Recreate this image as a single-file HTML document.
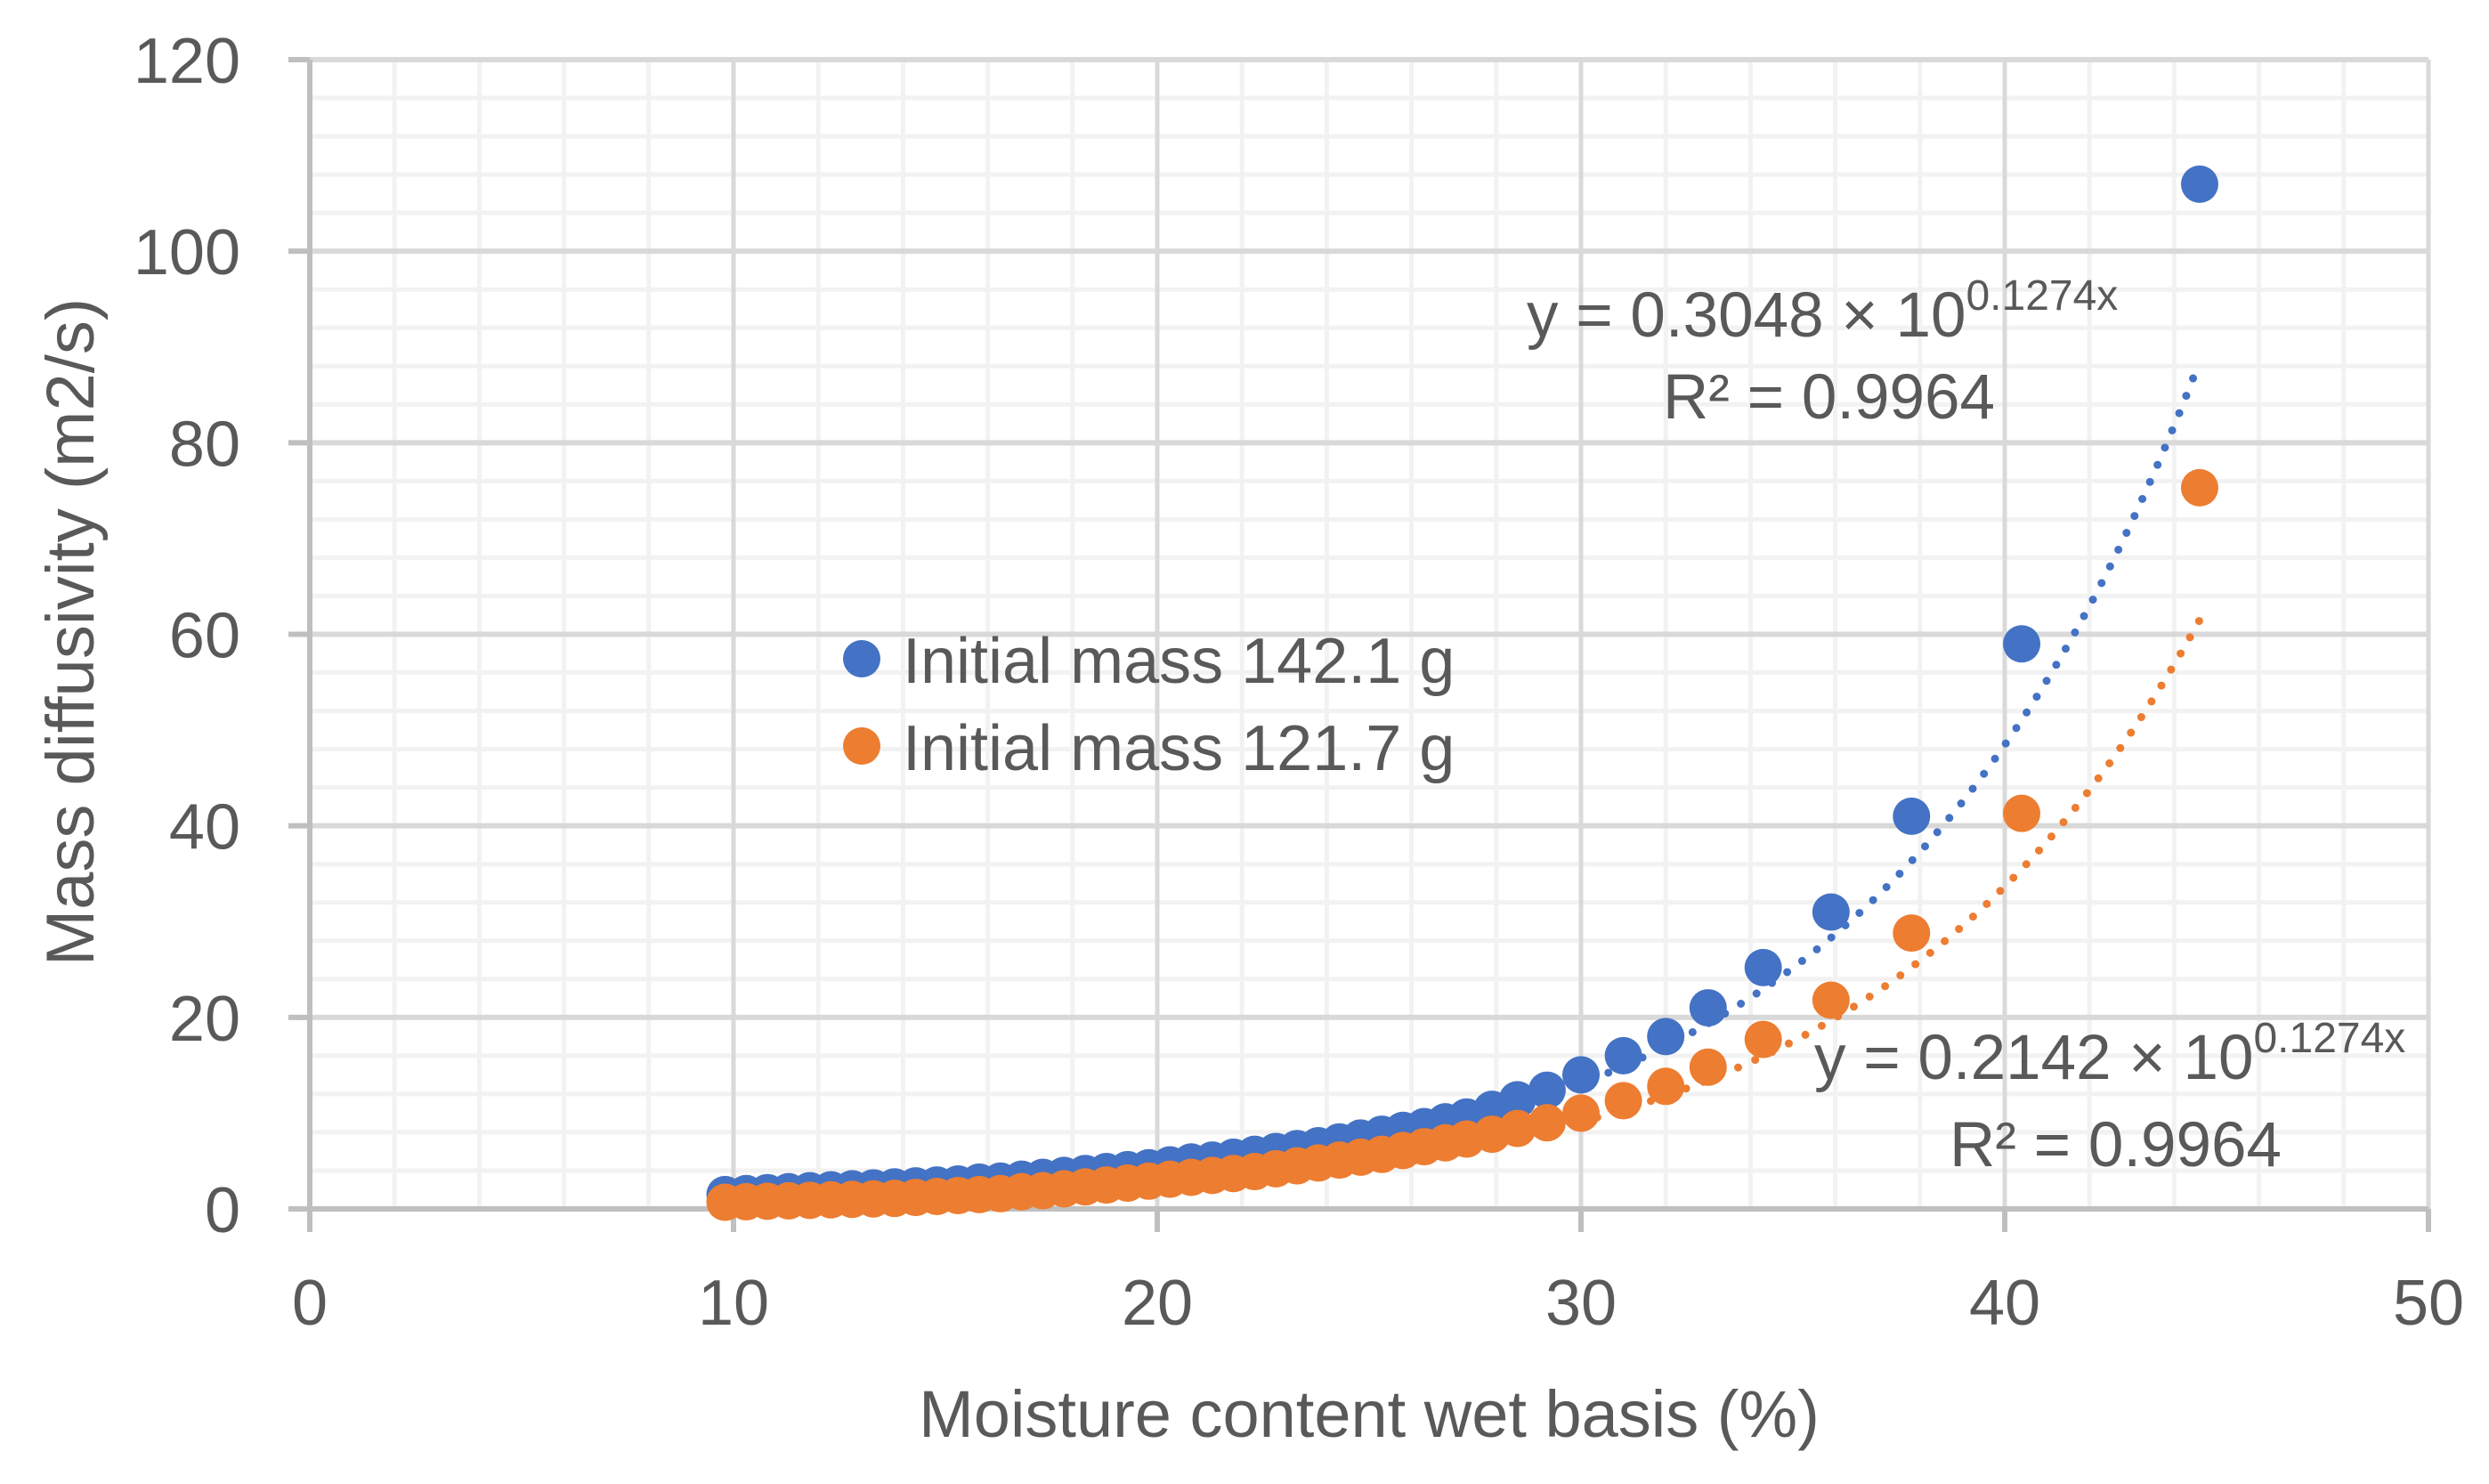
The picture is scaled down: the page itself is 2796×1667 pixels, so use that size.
<!DOCTYPE html>
<html><head><meta charset="utf-8"><style>
html,body{margin:0;padding:0;background:#fff;}
svg{display:block;font-family:"Liberation Sans",sans-serif;}
</style></head><body>
<svg id="chart" width="2796" height="1667" viewBox="0 0 2796 1667">
<g id="grid"></g>
<g id="axes"></g>
<g id="trend"></g>
<g id="pts"></g>
<text transform="translate(105,710) rotate(-90)" text-anchor="middle" font-size="76" fill="#595959">Mass diffusivity (m2/s)</text>
<text x="1538" y="1614" text-anchor="middle" font-size="74" fill="#595959">Moisture content wet basis (%)</text>
<g>
<circle cx="968" cy="740" r="21" fill="#4472c4"/>
<text x="1014" y="767" font-size="72" fill="#595959">Initial mass 142.1 g</text>
<circle cx="968" cy="838" r="21" fill="#ed7d31"/>
<text x="1014" y="865" font-size="72" fill="#595959">Initial mass 121.7 g</text>
</g>
<g font-size="71" fill="#595959">
<text x="1715" y="378">y = 0.3048 × 10<tspan font-size="48" dy="-30">0.1274x</tspan></text>
<text x="1868" y="470">R² = 0.9964</text>
</g>
<g font-size="71" fill="#595959">
<text x="2038" y="1212">y = 0.2142 × 10<tspan font-size="48" dy="-30">0.1274x</tspan></text>
<text x="2190" y="1310">R² = 0.9964</text>
</g>
</svg>
<script>
const xTicks=[0,10,20,30,40,50];
const yTicks=[0,20,40,60,80,100,120];
const blueX=[9.8,10.3,10.8,11.3,11.8,12.3,12.8,13.3,13.8,14.3,14.8,15.3,15.8,16.3,16.8,17.3,17.8,18.3,18.8,19.3,19.8,20.3,20.8,21.3,21.8,22.3,22.8,23.3,23.8,24.3,24.8,25.3,25.8,26.3,26.8,27.3,27.9,28.5,29.2,30.0,31.0,32.0,33.0,34.3,35.9,37.8,40.4,44.6];
const blueY=[1.5,1.6,1.7,1.8,1.9,2.0,2.1,2.2,2.3,2.4,2.5,2.6,2.8,2.9,3.1,3.3,3.5,3.7,3.9,4.1,4.3,4.6,4.9,5.1,5.4,5.7,6.0,6.3,6.6,7.0,7.4,7.8,8.2,8.6,9.1,9.6,10.4,11.4,12.4,14.0,16.0,18.0,21.0,25.2,31.0,41.0,59.0,107.0];
const orangeX=[9.8,10.3,10.8,11.3,11.8,12.3,12.8,13.3,13.8,14.3,14.8,15.3,15.8,16.3,16.8,17.3,17.8,18.3,18.8,19.3,19.8,20.3,20.8,21.3,21.8,22.3,22.8,23.3,23.8,24.3,24.8,25.3,25.8,26.3,26.8,27.3,27.9,28.5,29.2,30.0,31.0,32.0,33.0,34.3,35.9,37.8,40.4,44.6];
const orangeY=[0.7,0.75,0.8,0.85,0.9,0.95,1.0,1.05,1.1,1.2,1.3,1.4,1.5,1.6,1.8,1.9,2.1,2.3,2.5,2.7,2.9,3.1,3.3,3.5,3.7,3.9,4.2,4.5,4.8,5.1,5.4,5.7,6.1,6.5,6.9,7.3,7.8,8.4,9.0,10.0,11.3,12.8,14.8,17.7,21.8,28.8,41.3,75.3];
const fitEndY=[88.5,61.5];
const fitRate=[0.131,0.131];
const fitRange=[9.8,44.6];
const L=348,R=2728,T=67,B=1358;
const sx=v=>L+(v-0)/(50-0)*(R-L);
const sy=v=>B-(v-0)/(120-0)*(B-T);
const NS="http://www.w3.org/2000/svg";
function mk(tag,parent,attrs){const e=document.createElementNS(NS,tag);for(const k in attrs)e.setAttribute(k,attrs[k]);parent.appendChild(e);return e;}
const grid=document.getElementById('grid'),axes=document.getElementById('axes'),trend=document.getElementById('trend'),pts=document.getElementById('pts');
for(let v=0;v<=50;v+=2){if(v%10===0)continue;const e=mk('line',grid,{x1:sx(v),x2:sx(v),y1:T,y2:B,stroke:'#f2f2f2','stroke-width':5});

}
for(let v=0;v<=120;v+=4){if(v%20===0)continue;const e=mk('line',grid,{x1:L,x2:R,y1:sy(v),y2:sy(v),stroke:'#f2f2f2','stroke-width':5});

}
xTicks.forEach(v=>{if(v===0)return;const e=mk('line',grid,{x1:sx(v),x2:sx(v),y1:T,y2:B,stroke:'#d9d9d9','stroke-width':5});

});
yTicks.forEach(v=>{if(v===0)return;const e=mk('line',grid,{x1:L,x2:R,y1:sy(v),y2:sy(v),stroke:'#d9d9d9','stroke-width':6});

});
let a=mk('line',axes,{x1:L,x2:L,y1:T,y2:B,stroke:'#bfbfbf','stroke-width':6});


a=mk('line',axes,{x1:L-24,x2:R,y1:B,y2:B,stroke:'#bfbfbf','stroke-width':6});


yTicks.forEach(v=>{const t=mk('line',axes,{x1:L-24,x2:L,y1:sy(v),y2:sy(v),stroke:'#bfbfbf','stroke-width':6});


const l=mk('text',axes,{x:L-78,y:sy(v)+26,'text-anchor':'end','font-size':72,fill:'#595959'});l.textContent=v;

});
xTicks.forEach(v=>{const t=mk('line',axes,{x1:sx(v),x2:sx(v),y1:B,y2:B+26,stroke:'#bfbfbf','stroke-width':6});


const l=mk('text',axes,{x:sx(v),y:B+130,'text-anchor':'middle','font-size':72,fill:'#595959'});l.textContent=v;

});
const colors=['#4472c4','#ed7d31'];
fitEndY.forEach((ye,i)=>{let d='';for(let x=fitRange[0];x<=fitRange[1]+1e-6;x+=0.1){const y=ye*Math.exp(fitRate[i]*(x-fitRange[1]));d+=(d?'L':'M')+sx(x).toFixed(1)+','+sy(y).toFixed(1);}
const p=mk('path',trend,{d:d,fill:'none',stroke:colors[i],'stroke-width':9,'stroke-linecap':'round','stroke-dasharray':'0 21'});

});
function series(xs,ys,col,name){xs.forEach((x,k)=>{const c=mk('circle',pts,{cx:sx(x),cy:sy(ys[k]),r:21,fill:col});

});}
series(blueX,blueY,colors[0],'point-142');
series(orangeX,orangeY,colors[1],'point-121');
</script>
</body></html>
